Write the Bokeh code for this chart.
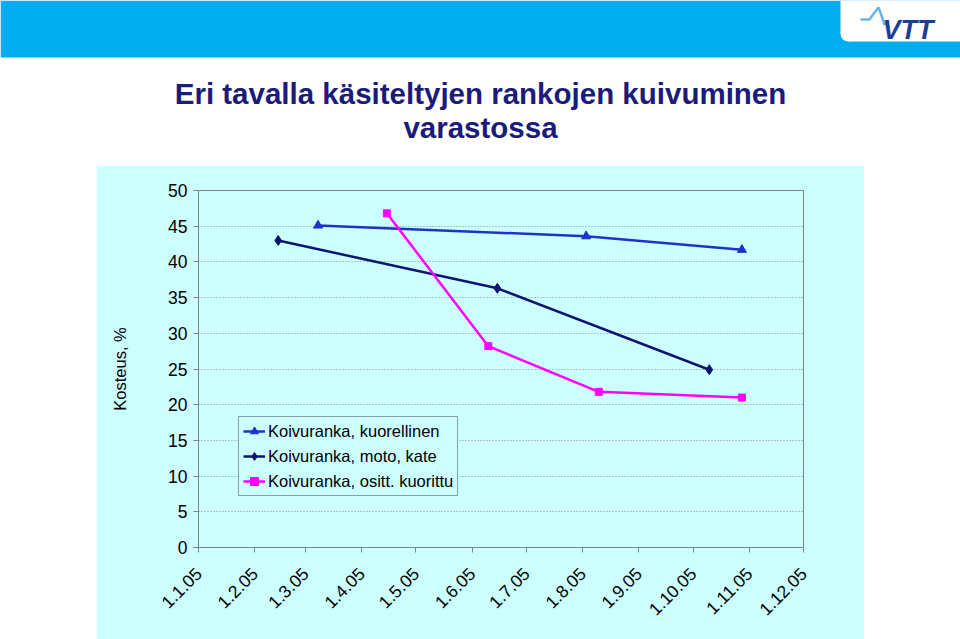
import math
import pandas as pd
from bokeh.plotting import figure
from bokeh.models import Range1d, FixedTicker, Legend, LegendItem, Spacer
from bokeh.layouts import column, row
from bokeh.core.properties import value
from bokeh.embed import file_html
from bokeh.resources import INLINE

# ---------------- data ----------------
title_lines = ["Eri tavalla käsiteltyjen rankojen kuivuminen", "varastossa"]
y_label = "Kosteus, %"
x_tick_labels = ["1.1.05", "1.2.05", "1.3.05", "1.4.05", "1.5.05", "1.6.05",
                 "1.7.05", "1.8.05", "1.9.05", "1.10.05", "1.11.05", "1.12.05"]
y_ticks = [0, 5, 10, 15, 20, 25, 30, 35, 40, 45, 50]

s1_name = "Koivuranka, kuorellinen"
s1_dates = ["2005-03-08", "2005-08-03", "2005-10-28"]
s1_values = [45.1, 43.6, 41.7]

s2_name = "Koivuranka, moto, kate"
s2_dates = ["2005-02-14", "2005-06-15", "2005-10-10"]
s2_values = [43.0, 36.3, 24.9]

s3_name = "Koivuranka, ositt. kuorittu"
s3_dates = ["2005-04-15", "2005-06-10", "2005-08-10", "2005-10-28"]
s3_values = [46.8, 28.2, 21.8, 21.0]

logo_text = "VTT"

# ---------------- helpers ----------------
def label_to_ms(lbl):
    d, m, y = lbl.split(".")
    return pd.Timestamp(2000 + int(y), int(m), int(d)).value / 1e6

def dates_to_ms(ds):
    return [pd.Timestamp(d).value / 1e6 for d in ds]

tick_ms = [label_to_ms(t) for t in x_tick_labels]

CYAN = "#CCFFFF"
FONT = "Liberation Sans"
GRAY = "#808080"

# ---------------- header ----------------
hdr = figure(width=960, height=165, x_range=Range1d(0, 960), y_range=Range1d(165, 0),
             output_backend="svg", toolbar_location=None, min_border=0,
             x_axis_location=None, y_axis_location=None,
             outline_line_color=None, background_fill_color="white",
             border_fill_color="white")
hdr.grid.visible = False
hdr.quad(left=0, right=960, top=0, bottom=57, fill_color="#00AEEF", line_color=None)
hdr.quad(left=848, right=960, top=0, bottom=41, fill_color="white", line_color=None)
hdr.quad(left=840, right=960, top=0, bottom=33, fill_color="white", line_color=None)
hdr.circle(x=[848], y=[33], radius=8, fill_color="white", line_color=None)
hdr.line(x=[860, 869, 874, 878, 881, 884, 888], y=[19, 19, 12, 7, 15, 24, 22],
         line_color="#6BB5E5", line_width=2.5)
hdr.text(x=[882], y=[29], text=[logo_text], text_font=value(FONT),
         text_font_style="bold italic", text_font_size="27px", text_color="#1B3F94",
         text_align="left", text_baseline="alphabetic")
hdr.text(x=[480, 480], y=[93, 127], text=title_lines, text_font=value(FONT),
         text_font_style="bold", text_font_size="29.5px", text_color="#1B1B7A",
         text_align="center", text_baseline="alphabetic")

# ---------------- chart ----------------
p = figure(width=768, height=474, x_axis_type="datetime",
           x_range=Range1d(tick_ms[0], tick_ms[-1]), y_range=Range1d(0, 50),
           output_backend="svg", toolbar_location=None,
           min_border_left=102, min_border_right=61, min_border_top=25, min_border_bottom=92,
           background_fill_color=CYAN, border_fill_color=CYAN,
           outline_line_color=GRAY, outline_line_width=1)

p.xaxis.ticker = FixedTicker(ticks=tick_ms)
p.xaxis.major_label_overrides = {t: l for t, l in zip(tick_ms, x_tick_labels)}
p.xaxis.major_label_orientation = math.pi / 4
p.yaxis.ticker = FixedTicker(ticks=y_ticks)
p.yaxis.axis_label = y_label

for ax in (p.xaxis[0], p.yaxis[0]):
    ax.axis_line_color = GRAY
    ax.major_tick_line_color = GRAY
    ax.major_tick_out = 5
    ax.major_tick_in = 0
    ax.minor_tick_line_color = None
    ax.major_label_text_font = FONT
    ax.major_label_text_font_size = "17.5px"
    ax.major_label_text_color = "black"
p.xaxis.major_label_standoff = 18
p.yaxis.major_label_standoff = 6
p.yaxis.axis_label_text_font = FONT
p.yaxis.axis_label_text_font_size = "16.5px"
p.yaxis.axis_label_text_font_style = "normal"
p.yaxis.axis_label_text_color = "black"
p.yaxis.axis_label_standoff = 36

p.xgrid.visible = False
p.ygrid.grid_line_color = "#8C8C8C"
p.ygrid.grid_line_dash = "1 2"
p.ygrid.grid_line_width = 1

series = [
    (s1_name, s1_dates, s1_values, "#1E32C8", "triangle", 9),
    (s2_name, s2_dates, s2_values, "#0C1470", "diamond", 10),
    (s3_name, s3_dates, s3_values, "#FF00FF", "square", 7),
]
items = []
for name, ds, vals, col, mk, sz in series:
    xs = dates_to_ms(ds)
    r1 = p.line(xs, vals, line_color=col, line_width=2.5)
    r2 = p.scatter(xs, vals, marker=mk, size=sz, fill_color=col, line_color=col)
    items.append(LegendItem(label=name, renderers=[r1, r2]))

legend = Legend(items=items, location=(40, 51),
                label_text_font=FONT, label_text_font_size="16.5px",
                label_text_color="black",
                glyph_width=22, glyph_height=20, label_height=20,
                label_standoff=3, spacing=5, padding=4, margin=0,
                border_line_color="#404040", border_line_width=1,
                background_fill_color=CYAN, background_fill_alpha=1.0)
p.add_layout(legend)

layout = column(hdr, row(Spacer(width=96, height=474), p, Spacer(width=96, height=474)))

open("out.html", "w").write(file_html(layout, INLINE))
